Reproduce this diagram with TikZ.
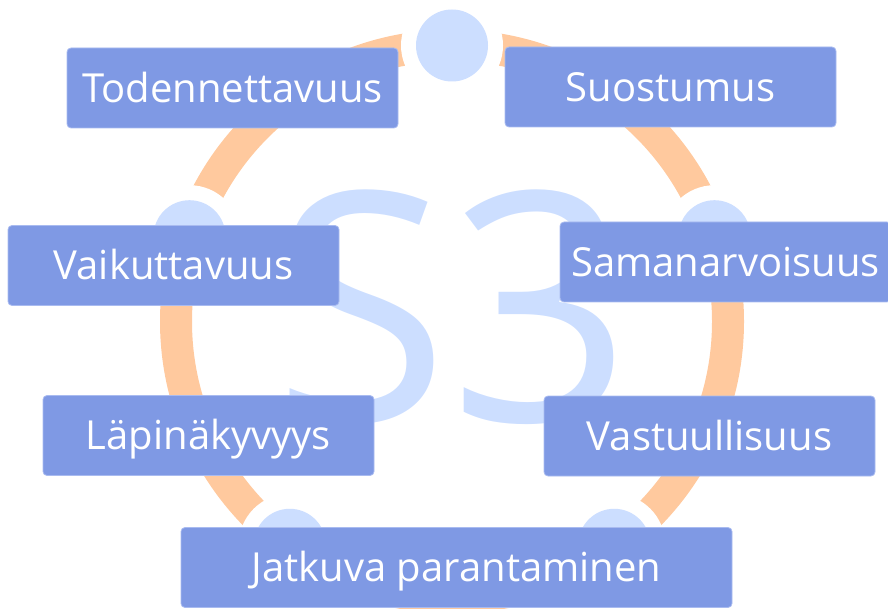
\documentclass[tikz,border=0pt]{standalone}
\usepackage{fontspec}
\setmainfont{Open Sans}
\definecolor{ringc}{HTML}{FFC99E}
\definecolor{dotc}{HTML}{CCDEFF}
\definecolor{boxc}{HTML}{7F99E4}
\definecolor{boxe}{HTML}{A9BBF0}
\begin{document}
\begin{tikzpicture}[x=1pt,y=-1pt,
  halo/.style={circle, fill=white, minimum size=102pt, inner sep=0pt},
  dot/.style={circle, fill=dotc, minimum size=72pt, inner sep=0pt},
  pillar/.style={rectangle, rounded corners=4pt, fill=boxc, draw=boxe, line width=0.8pt,
    text=white, font=\fontsize{40}{48}\selectfont, inner sep=0pt,
    text height=28.6pt, text depth=0pt, minimum width=331pt, minimum height=80pt}]
\useasboundingbox (0,0) rectangle (888,609);
\coordinate (o) at (452,321.5);
% ring
\draw[ringc, line width=32pt] (o) circle (276pt);
% large background label
\node[text=dotc, font=\fontsize{320}{320}\selectfont, inner sep=0pt,
  text height=228pt, text depth=0pt] (big) at (453,307) {S3};
% five dots on the ring
\foreach \a/\n in {90/d1,18/d2,306/d3,234/d4,162/d5}{
  \path (o) ++(\a:276pt) node[halo] {} node[dot] (\n) {};
}
% labels
\node[pillar] (b1) at (232.5,88) {Todennettavuus};
\node[pillar] (b2) at (670.5,87) {Suostumus};
\node[pillar] (b3) at (173.5,265.5) {Vaikuttavuus};
\node[pillar] (b4) at (725.5,262) {Samanarvoisuus};
\node[pillar] (b5) at (208.5,435.5) {Läpinäkyvyys};
\node[pillar] (b6) at (709.5,436) {Vastuullisuus};
\node[pillar, minimum width=551pt] (b7) at (456.5,567.5) {Jatkuva parantaminen};
\end{tikzpicture}
\end{document}
